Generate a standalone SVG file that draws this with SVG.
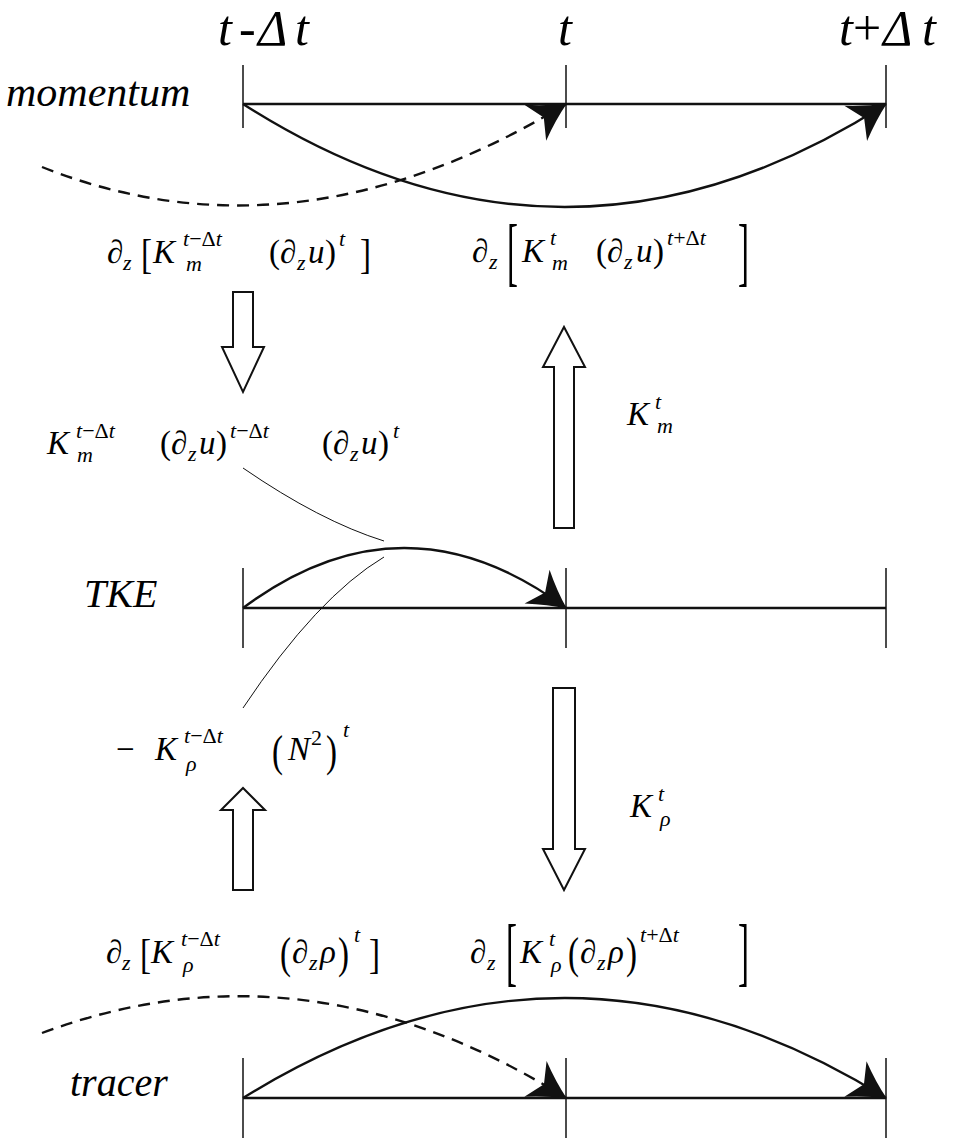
<svg xmlns="http://www.w3.org/2000/svg" width="961" height="1138" viewBox="0 0 961 1138">
<rect width="961" height="1138" fill="#fff"/>

<g id="headers">
<text font-family="Liberation Serif" font-style="italic" font-size="50"><tspan x="218" y="45">t</tspan><tspan x="239" y="45" font-style="normal">-</tspan><tspan x="258" y="45">Δ</tspan><tspan x="295" y="45">t</tspan></text>
<text font-family="Liberation Serif" font-style="italic" font-size="50" x="558" y="45">t</text>
<text font-family="Liberation Serif" font-style="italic" font-size="50"><tspan x="839" y="45">t</tspan><tspan x="853" y="45" font-style="normal">+</tspan><tspan x="883" y="45">Δ</tspan><tspan x="922" y="45">t</tspan></text>
</g>

<g id="momentum">
<text font-family="Liberation Serif" font-style="italic" font-size="42" x="6" y="106">momentum</text>
<line stroke="#111" stroke-width="2.4" x1="243" y1="104" x2="886" y2="104"/>
<g stroke="#111" stroke-width="1.5">
<line x1="243" y1="65" x2="243" y2="128"/>
<line x1="566" y1="65" x2="566" y2="128"/>
<line x1="886" y1="65" x2="886" y2="128"/>
</g>
</g>

<g id="tke">
<text font-family="Liberation Serif" font-style="italic" font-size="40" x="84" y="607">TKE</text>
<line stroke="#111" stroke-width="2.4" x1="243" y1="608" x2="886" y2="608"/>
<g stroke="#111" stroke-width="1.5">
<line x1="243" y1="568" x2="243" y2="648"/>
<line x1="566" y1="568" x2="566" y2="648"/>
<line x1="886" y1="568" x2="886" y2="648"/>
</g>
</g>

<g id="tracer">
<text font-family="Liberation Serif" font-style="italic" font-size="40" x="70" y="1096">tracer</text>
<line stroke="#111" stroke-width="2.4" x1="243" y1="1098" x2="886" y2="1098"/>
<g stroke="#111" stroke-width="1.5">
<line x1="243" y1="1058" x2="243" y2="1138"/>
<line x1="566" y1="1058" x2="566" y2="1138"/>
<line x1="886" y1="1058" x2="886" y2="1138"/>
</g>
</g>

<g id="connectors">
<g fill="none" stroke="#111" stroke-width="2.4">
<path d="M243,104 Q565,310 886,104"/>
<path stroke-dasharray="12 8" d="M42,167 Q296,268 566,104"/>
<path d="M243,608 Q404,488 566,608"/>
<path d="M243,1098 Q565,898 886,1098"/>
<path stroke-dasharray="12 8" d="M42,1033 Q305,935 566,1098"/>
</g>
<g fill="#111">
<path d="M1,0 Q-17,-8 -36,-21 L-26,0 L-36,21 Q-17,8 1,0 Z" transform="translate(886,104) rotate(-32.7)"/>
<path d="M1,0 Q-17,-8 -36,-21 L-26,0 L-36,21 Q-17,8 1,0 Z" transform="translate(566,104) rotate(-31.3)"/>
<path d="M1,0 Q-17,-8 -36,-21 L-26,0 L-36,21 Q-17,8 1,0 Z" transform="translate(566,608) rotate(36.5)"/>
<path d="M1,0 Q-17,-8 -36,-21 L-26,0 L-36,21 Q-17,8 1,0 Z" transform="translate(886,1098) rotate(31.9)"/>
<path d="M1,0 Q-17,-8 -36,-21 L-26,0 L-36,21 Q-17,8 1,0 Z" transform="translate(566,1098) rotate(32)"/>
</g>
<g fill="none" stroke="#111" stroke-width="1">
<path d="M243,468 Q320,521 384,541"/>
<path d="M384,557 Q317,597 243,708"/>
</g>
<g fill="#fff" stroke="#111" stroke-width="2">
<polygon points="233,292 253,292 253,347 264,347 243,392 222,347 233,347"/>
<polygon points="554,528 574,528 574,367 585,367 564,327 543,367 554,367"/>
<polygon points="553,688 575,688 575,849 585,849 564,890 543,849 553,849"/>
<polygon points="233,890 253,890 253,810 265,810 243,788 221,810 233,810"/>
</g>
</g>

<g id="label-mom-old">
<text font-family="Liberation Serif" font-size="33">
<tspan x="107" y="263">∂</tspan><tspan font-size="22" font-style="italic" x="123" y="270">z</tspan>
<tspan x="153" y="263" font-style="italic">K</tspan>
<tspan font-size="22" x="183" y="246"><tspan font-style="italic">t</tspan>−Δ<tspan font-style="italic">t</tspan></tspan>
<tspan font-size="22" font-style="italic" x="186" y="271">m</tspan>
<tspan x="269" y="263">(∂</tspan><tspan font-size="22" font-style="italic" x="297" y="270">z</tspan><tspan font-style="italic" x="308" y="263">u</tspan><tspan x="325" y="263">)</tspan>
<tspan font-size="22" font-style="italic" x="339" y="246">t</tspan>
</text>
<text font-family="Liberation Serif" font-size="33" transform="translate(141,268) scale(1,1.25)">[</text>
<text font-family="Liberation Serif" font-size="33" transform="translate(360,268) scale(1,1.25)">]</text>
</g>

<g id="label-mom-new">
<text font-family="Liberation Serif" font-size="33">
<tspan x="472" y="262">∂</tspan><tspan font-size="22" font-style="italic" x="489" y="269">z</tspan>
<tspan x="522" y="262" font-style="italic">K</tspan>
<tspan font-size="22" font-style="italic" x="550" y="245">t</tspan>
<tspan font-size="22" font-style="italic" x="552" y="270">m</tspan>
<tspan x="596" y="262">(∂</tspan><tspan font-size="22" font-style="italic" x="624" y="269">z</tspan><tspan font-style="italic" x="636" y="262">u</tspan><tspan x="653" y="262">)</tspan>
<tspan font-size="22" x="667" y="245"><tspan font-style="italic">t</tspan>+Δ<tspan font-style="italic">t</tspan></tspan>
</text>
<text font-family="Liberation Serif" font-size="33" transform="translate(507,277) scale(1,2.3)">[</text>
<text font-family="Liberation Serif" font-size="33" transform="translate(738,277) scale(1,2.3)">]</text>
</g>

<g id="label-shear">
<text font-family="Liberation Serif" font-size="33">
<tspan x="47" y="454" font-style="italic">K</tspan>
<tspan font-size="22" x="76" y="438"><tspan font-style="italic">t</tspan>−Δ<tspan font-style="italic">t</tspan></tspan>
<tspan font-size="22" font-style="italic" x="77" y="462">m</tspan>
<tspan x="160" y="454">(∂</tspan><tspan font-size="22" font-style="italic" x="188" y="461">z</tspan><tspan font-style="italic" x="199" y="454">u</tspan><tspan x="216" y="454">)</tspan>
<tspan font-size="22" x="230" y="438"><tspan font-style="italic">t</tspan>−Δ<tspan font-style="italic">t</tspan></tspan>
<tspan x="322" y="454">(∂</tspan><tspan font-size="22" font-style="italic" x="350" y="461">z</tspan><tspan font-style="italic" x="361" y="454">u</tspan><tspan x="378" y="454">)</tspan>
<tspan font-size="22" font-style="italic" x="393" y="438">t</tspan>
</text>
</g>

<g id="label-buoy">
<text font-family="Liberation Serif" font-size="33">
<tspan x="116" y="760">−</tspan>
<tspan x="155" y="760" font-style="italic">K</tspan>
<tspan font-size="22" x="184" y="743"><tspan font-style="italic">t</tspan>−Δ<tspan font-style="italic">t</tspan></tspan>
<tspan font-size="22" font-style="italic" x="186" y="771">ρ</tspan>
<tspan x="288" y="760" font-style="italic">N</tspan>
<tspan font-size="22" x="311" y="745">2</tspan>
<tspan font-size="22" font-style="italic" x="343" y="737">t</tspan>
</text>
<text font-family="Liberation Serif" font-size="33" transform="translate(272,766) scale(1,1.35)">(</text>
<text font-family="Liberation Serif" font-size="33" transform="translate(326,766) scale(1,1.35)">)</text>
</g>

<g id="label-km">
<text font-family="Liberation Serif" font-size="33" font-style="italic"><tspan x="627" y="425">K</tspan><tspan font-size="22" x="655" y="409">t</tspan><tspan font-size="22" x="657" y="433">m</tspan></text>
</g>

<g id="label-krho">
<text font-family="Liberation Serif" font-size="33" font-style="italic"><tspan x="630" y="817">K</tspan><tspan font-size="22" x="658" y="801">t</tspan><tspan font-size="22" x="660" y="826">ρ</tspan></text>
</g>

<g id="label-tr-old">
<text font-family="Liberation Serif" font-size="33">
<tspan x="106" y="963">∂</tspan><tspan font-size="22" font-style="italic" x="122" y="970">z</tspan>
<tspan x="151" y="963" font-style="italic">K</tspan>
<tspan font-size="22" x="181" y="946"><tspan font-style="italic">t</tspan>−Δ<tspan font-style="italic">t</tspan></tspan>
<tspan font-size="22" font-style="italic" x="183" y="972">ρ</tspan>
<tspan x="292" y="963">∂</tspan><tspan font-size="22" font-style="italic" x="309" y="970">z</tspan><tspan font-style="italic" x="320" y="963">ρ</tspan>
<tspan font-size="22" font-style="italic" x="354" y="942">t</tspan>
</text>
<text font-family="Liberation Serif" font-size="33" transform="translate(140,968) scale(1,1.25)">[</text>
<text font-family="Liberation Serif" font-size="33" transform="translate(280,968) scale(1,1.35)">(</text>
<text font-family="Liberation Serif" font-size="33" transform="translate(338,968) scale(1,1.35)">)</text>
<text font-family="Liberation Serif" font-size="33" transform="translate(369,968) scale(1,1.25)">]</text>
</g>

<g id="label-tr-new">
<text font-family="Liberation Serif" font-size="33">
<tspan x="470" y="963">∂</tspan><tspan font-size="22" font-style="italic" x="487" y="970">z</tspan>
<tspan x="520" y="963" font-style="italic">K</tspan>
<tspan font-size="22" font-style="italic" x="549" y="946">t</tspan>
<tspan font-size="22" font-style="italic" x="551" y="972">ρ</tspan>
<tspan x="580" y="963">∂</tspan><tspan font-size="22" font-style="italic" x="597" y="970">z</tspan><tspan font-style="italic" x="608" y="963">ρ</tspan>
<tspan font-size="22" x="640" y="942"><tspan font-style="italic">t</tspan>+Δ<tspan font-style="italic">t</tspan></tspan>
</text>
<text font-family="Liberation Serif" font-size="33" transform="translate(506,977) scale(1,2.3)">[</text>
<text font-family="Liberation Serif" font-size="33" transform="translate(568,968) scale(1,1.35)">(</text>
<text font-family="Liberation Serif" font-size="33" transform="translate(626,968) scale(1,1.35)">)</text>
<text font-family="Liberation Serif" font-size="33" transform="translate(738,977) scale(1,2.3)">]</text>
</g>
</svg>
